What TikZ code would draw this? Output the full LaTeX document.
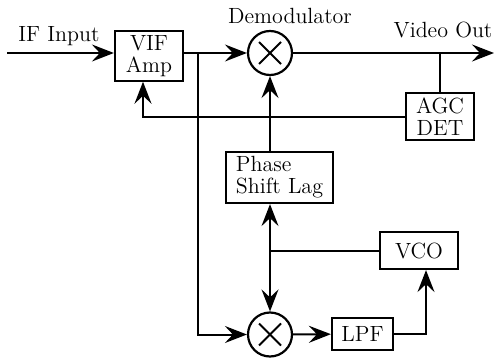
\documentclass[tikz,border=0pt]{standalone}
\usetikzlibrary{arrows.meta}
\tikzset{
  blk/.style={draw,line width=1.1pt,inner sep=2pt,font=\fontsize{11}{11}\selectfont},
  lbl/.style={font=\fontsize{11}{12}\selectfont},
  mixer/.style={draw,circle,line width=1.1pt,minimum size=22pt,inner sep=0pt,
    path picture={
      \draw[line width=1pt] ([shift={(-5.5pt,-5.5pt)}]path picture bounding box.center)
        -- ([shift={(5.5pt,5.5pt)}]path picture bounding box.center);
      \draw[line width=1pt] ([shift={(-5.5pt,5.5pt)}]path picture bounding box.center)
        -- ([shift={(5.5pt,-5.5pt)}]path picture bounding box.center);}},
  sig/.style={line width=1pt}
}
\begin{document}
\begin{tikzpicture}[x=0.5pt,y=-0.5pt,line join=miter,>={Stealth[length=11pt,width=8.5pt,inset=4pt]}]
  \useasboundingbox (0,0) rectangle (497,358);
  % blocks
  \node[blk,minimum width=34pt,minimum height=24pt,align=center] (vif) at (149,56) {VIF\\Amp};
  \node[mixer] (dem) at (270,53) {};
  \node[blk,minimum width=34pt,minimum height=23.5pt,align=center] (agc) at (440,116.5) {AGC\\DET};
  \node[blk,minimum width=53.5pt,minimum height=25.5pt,align=left] (psl) at (279.5,177.5) {Phase\\Shift Lag};
  \node[blk,minimum width=39pt,minimum height=18.5pt] (vco) at (419,250.5) {VCO};
  \node[mixer] (mix) at (270,334.5) {};
  \node[blk,minimum width=30.5pt,minimum height=16pt] (lpf) at (362.5,334) {LPF};
  % labels
  \node[lbl] (iflbl) at (59,36) {IF Input};
  \node[lbl] (demlbl) at (290,16) {Demodulator};
  \node[lbl] (outlbl) at (443,30) {Video Out};
  % free ends
  \coordinate (in) at (7,53);
  \coordinate (out) at (494,53);
  \coordinate (br) at (198,53);
  % signal paths
  \draw[sig,->] (in) -- (in -| vif.west);
  \draw[sig,->] (br -| vif.east) -- (dem);
  \draw[sig,->] (dem) -- (out);
  \draw[sig,->] (br) |- (mix);
  \draw[sig] (agc.north) -- (agc.north |- dem);
  \draw[sig,->] (agc.west) -| ([xshift=-3pt]vif.south);
  \draw[sig,->] (dem.south |- psl.north) -- (dem);
  \draw[sig,<->] (mix.north |- psl.south) -- (mix);
  \draw[sig] (vco.west) -- (vco.west -| mix);
  \draw[sig,->] (mix) -- (lpf);
  \draw[sig,->] (lpf) -| ([xshift=3.5pt]vco.south);
\end{tikzpicture}
\end{document}
